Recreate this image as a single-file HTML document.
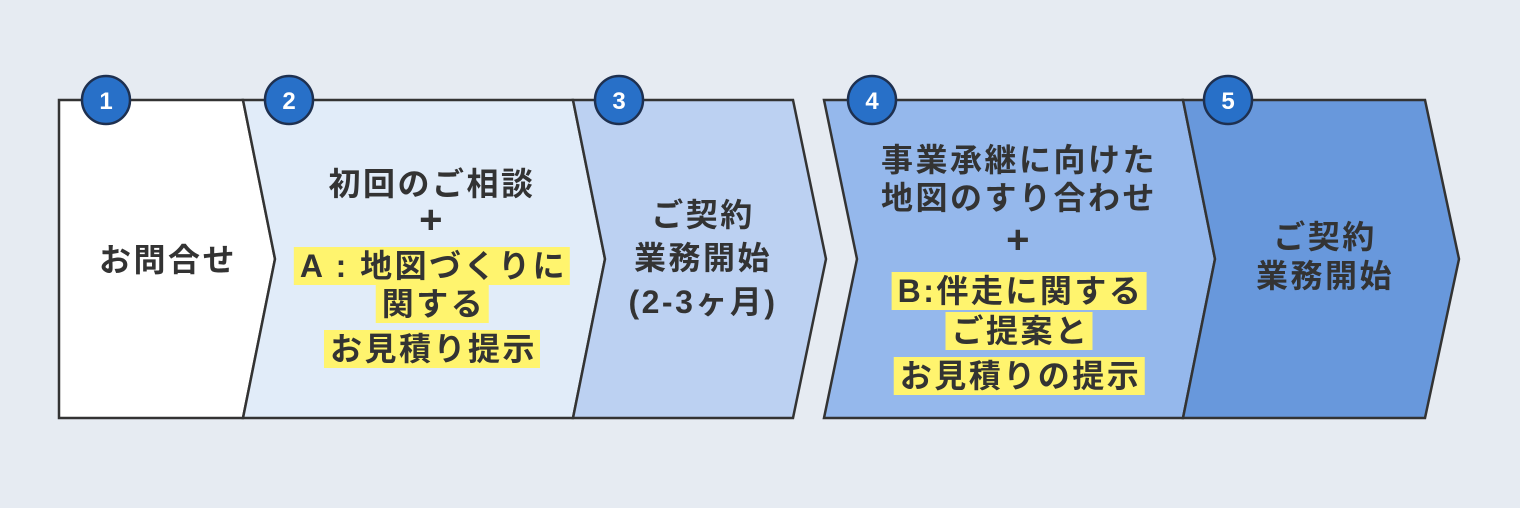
<!DOCTYPE html>
<html><head><meta charset="utf-8"><style>
body{margin:0;width:1520px;height:508px;background:#e6ebf2;position:relative;overflow:hidden;font-family:"Liberation Sans","Noto Sans CJK JP",sans-serif;}
svg{position:absolute;left:0;top:0}
.t{position:absolute;transform:translate(-50%,-50%);white-space:nowrap;font-weight:bold;font-size:32px;letter-spacing:2.5px;color:#333;line-height:38px;text-align:center}
.p{font-size:40px;font-family:"Liberation Sans",sans-serif}
.h{background:#fff46e;padding:1px 3px 1px 6px}
</style></head><body>
<svg width="1520" height="508">
<g stroke="#333" stroke-width="2.5" stroke-linejoin="miter">
<polygon points="59,100 243,100 275,259 243,418 59,418" fill="#fff"/>
<polygon points="243,100 573,100 605,259 573,418 243,418 275,259" fill="#e1ecf9"/>
<polygon points="573,100 793,100 826,259 793,418 573,418 605,259" fill="#bcd1f2"/>
<polygon points="824,100 1183,100 1215,259 1183,418 824,418 857,259" fill="#95b8ec"/>
<polygon points="1183,100 1425,100 1459,259 1425,418 1183,418 1215,259" fill="#6898dc"/>
</g>
<g fill="#2870c8" stroke="#1e3050" stroke-width="2.5">
<circle cx="106" cy="100" r="24"/><circle cx="289" cy="100" r="24"/><circle cx="619" cy="100" r="24"/><circle cx="872" cy="100" r="24"/><circle cx="1228" cy="100" r="24"/>
</g>
<g fill="#fff" font-family="Liberation Sans" font-weight="bold" font-size="24" text-anchor="middle">
<text x="106" y="109">1</text><text x="289" y="109">2</text><text x="619" y="109">3</text><text x="872" y="109">4</text><text x="1228" y="109">5</text>
</g>
</svg>
<div class="t" style="left:168px;top:260px">お問合せ</div>
<div class="t" style="left:432px;top:184px">初回のご相談</div>
<div class="t p" style="left:432px;top:220px">+</div>
<div class="t" style="left:432px;top:266px"><span class="h">A : 地図づくりに</span></div>
<div class="t" style="left:432px;top:304px"><span class="h">関する</span></div>
<div class="t" style="left:432px;top:349px"><span class="h">お見積り提示</span></div>
<div class="t" style="left:703px;top:215px">ご契約</div>
<div class="t" style="left:703px;top:258px">業務開始</div>
<div class="t" style="left:703px;top:302px">(2-3ヶ月)</div>
<div class="t" style="left:1019px;top:160px">事業承継に向けた</div>
<div class="t" style="left:1019px;top:198px">地図のすり合わせ</div>
<div class="t p" style="left:1019px;top:240px">+</div>
<div class="t" style="left:1019px;top:291px"><span class="h">B:伴走に関する</span></div>
<div class="t" style="left:1019px;top:331px"><span class="h">ご提案と</span></div>
<div class="t" style="left:1019px;top:376px"><span class="h">お見積りの提示</span></div>
<div class="t" style="left:1325px;top:237px">ご契約</div>
<div class="t" style="left:1325px;top:276px">業務開始</div>
</body></html>
